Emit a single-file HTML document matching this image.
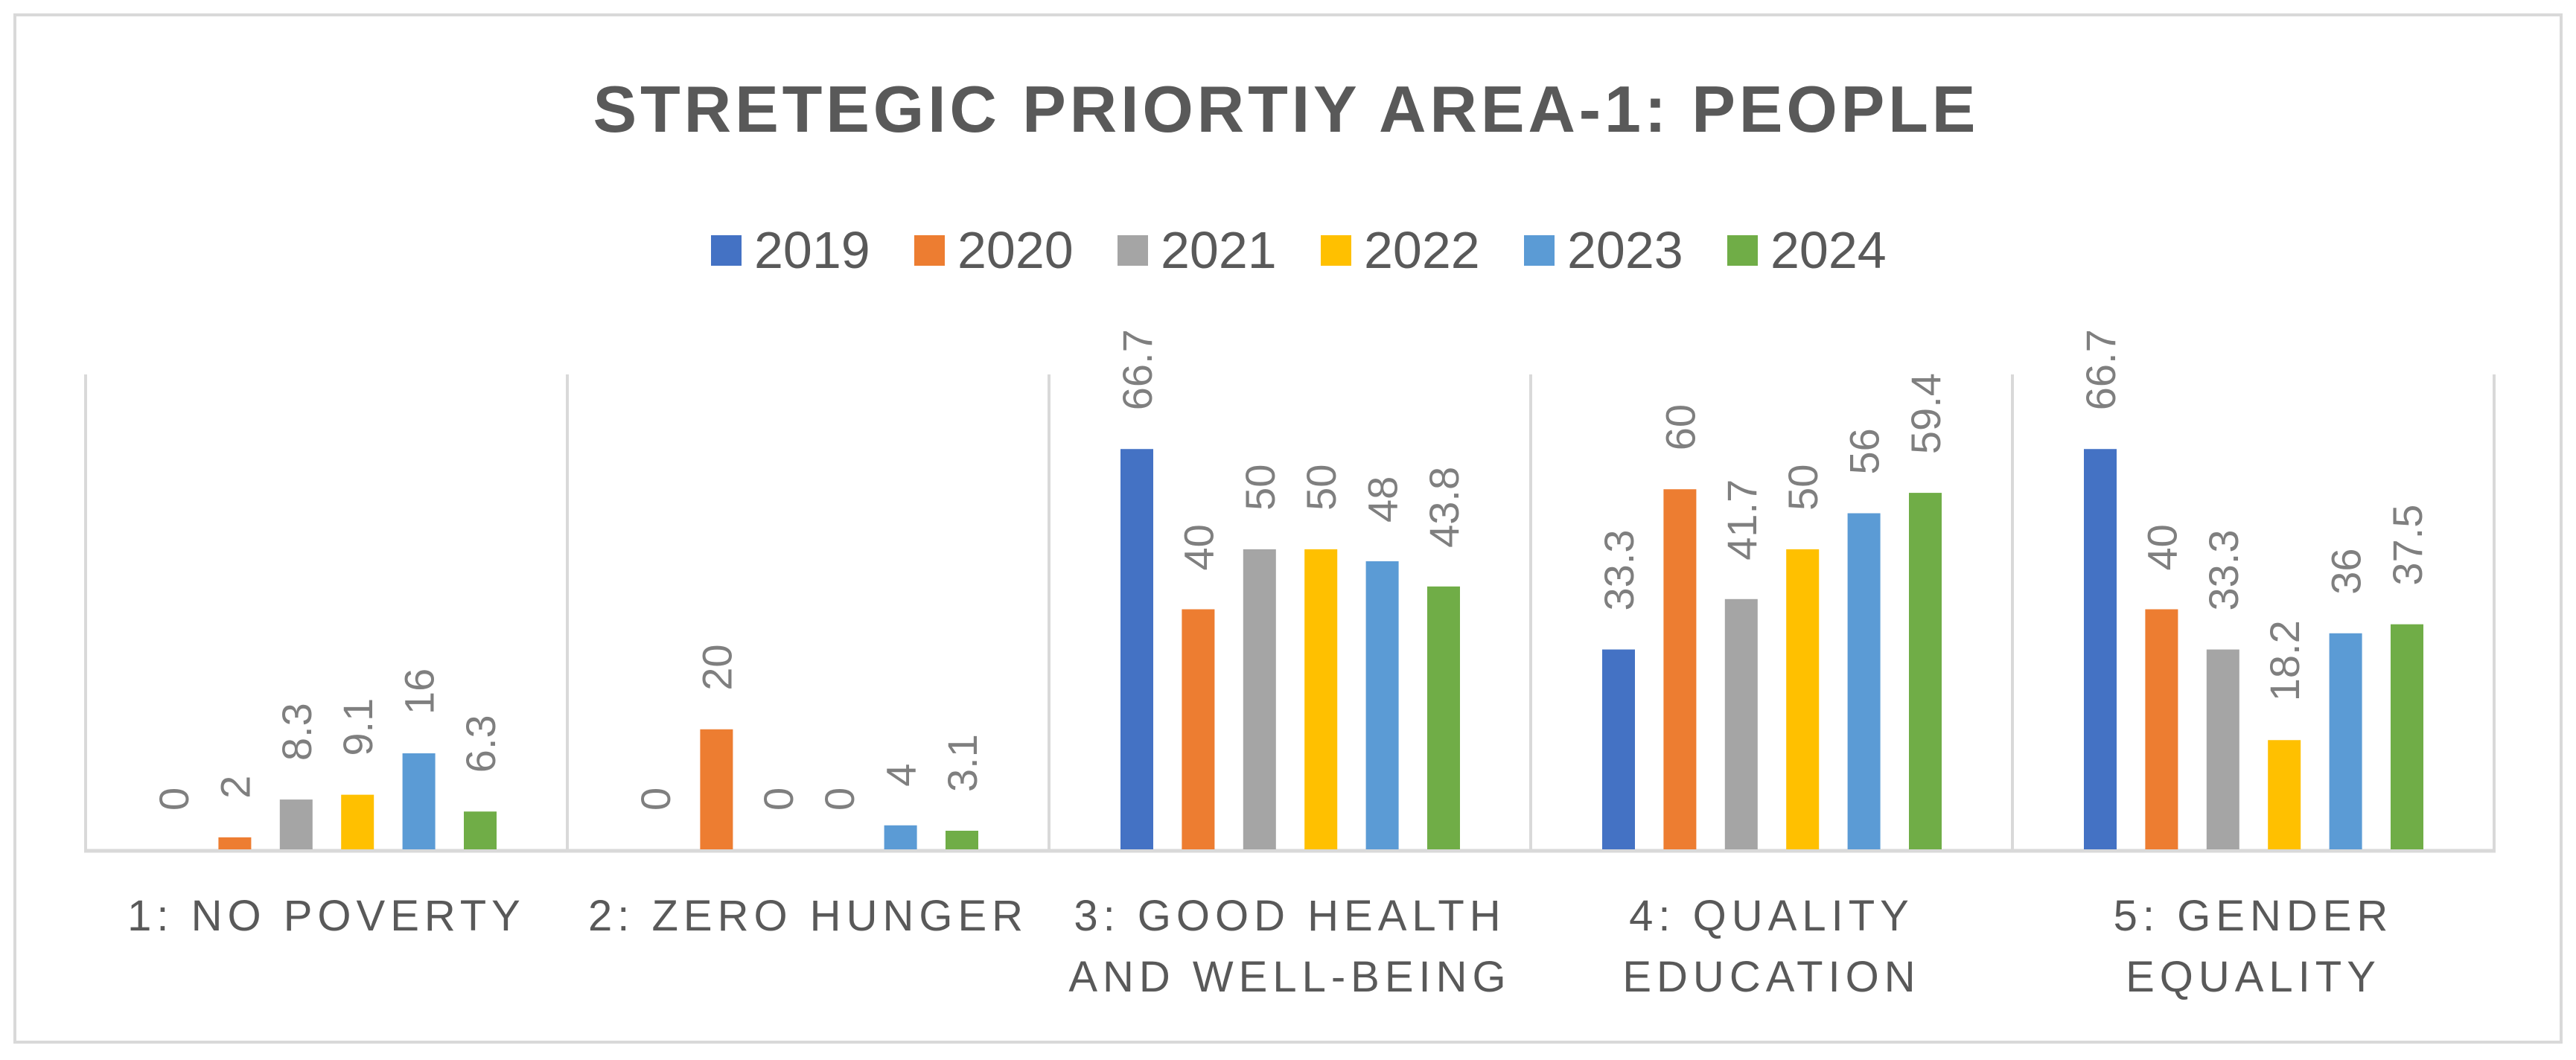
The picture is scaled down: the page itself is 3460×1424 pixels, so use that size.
<!DOCTYPE html>
<html><head><meta charset="utf-8"><style>
html,body{margin:0;padding:0;background:#fff}
svg{display:block}
text{font-family:"Liberation Sans",sans-serif}
</style></head><body>
<svg id="chart" width="3460" height="1424" viewBox="0 0 3460 1424" xmlns="http://www.w3.org/2000/svg">
<rect x="20" y="20" width="3420" height="1380" fill="#fff" stroke="#d9d9d9" stroke-width="4"/>
<text x="1725" y="177" text-anchor="middle" font-size="88" font-weight="bold" fill="#595959" textLength="1857" lengthAdjust="spacing">STRETEGIC PRIORTIY AREA-1: PEOPLE</text>
<g id="legend"></g>
<g id="plot"></g>
</svg>
<script>
const categories = [["1: NO POVERTY"],["2: ZERO HUNGER"],["3: GOOD HEALTH","AND WELL-BEING"],["4: QUALITY","EDUCATION"],["5: GENDER","EQUALITY"]];
const seriesNames = ["2019","2020","2021","2022","2023","2024"];
const s2019 = [0,0,66.7,33.3,66.7];
const s2020 = [2,20,40,60,40];
const s2021 = [8.3,0,50,41.7,33.3];
const s2022 = [9.1,0,50,50,18.2];
const s2023 = [16,4,48,56,36];
const s2024 = [6.3,3.1,43.8,59.4,37.5];
const series = [s2019,s2020,s2021,s2022,s2023,s2024];
const colors = ["#4472C4","#ED7D31","#A5A5A5","#FFC000","#5B9BD5","#70AD47"];
const yMax = 80;

const NS="http://www.w3.org/2000/svg";
const plotL=115, plotR=3350, baseY=1141, topY=496;
const catW=(plotR-plotL)/categories.length;
const step=82.4, barW=44;
function y(v){return baseY-(v/yMax)*(baseY-topY);}
function xBar(c,s){return plotL+c*catW+96+s*step;}
function mk(tag,attrs,parent){const e=document.createElementNS(NS,tag);for(const k in attrs)e.setAttribute(k,attrs[k]);parent.appendChild(e);return e;}
const plot=document.getElementById('plot');
for(let i=0;i<=categories.length;i++){
  const l=mk('line',{x1:plotL+i*catW,x2:plotL+i*catW,y1:503,y2:baseY,stroke:'#d9d9d9','stroke-width':4},plot);
  
  
}
const ax=mk('line',{x1:plotL-2,x2:plotR+2,y1:baseY+2,y2:baseY+2,stroke:'#d9d9d9','stroke-width':5},plot);


series.forEach((vals,s)=>{
  vals.forEach((v,c)=>{
    const x=xBar(c,s);
    if(v>0){
      const r=mk('rect',{x:x,y:y(v),width:barW,height:baseY-y(v),fill:colors[s]},plot);
      
      
    }
    const cx=x+barW/2, ty=y(v)-52;
    const t=mk('text',{x:0,y:0,transform:'translate('+(cx+20)+','+ty+') rotate(-90)',
      'font-size':56,fill:'#7f7f7f'},plot);
    t.textContent=String(v);
    
    
  });
});
categories.forEach((lines,c)=>{
  const cx=plotL+c*catW+catW/2;
  lines.forEach((ln,i)=>{
    const t=mk('text',{x:cx,y:1250+i*82,'text-anchor':'middle','font-size':58,'letter-spacing':7,fill:'#595959'},plot);
    t.textContent=ln;
    
    
  });
});
const lg=document.getElementById('legend');
seriesNames.forEach((n,i)=>{
  const x0=955+i*273;
  const r=mk('rect',{x:x0,y:316,width:41,height:41,fill:colors[i]},lg);
  
  
  const t=mk('text',{x:x0+58,y:360,'font-size':70,fill:'#595959'},lg);
  t.textContent=n;
  
  
});
</script>
</body></html>
